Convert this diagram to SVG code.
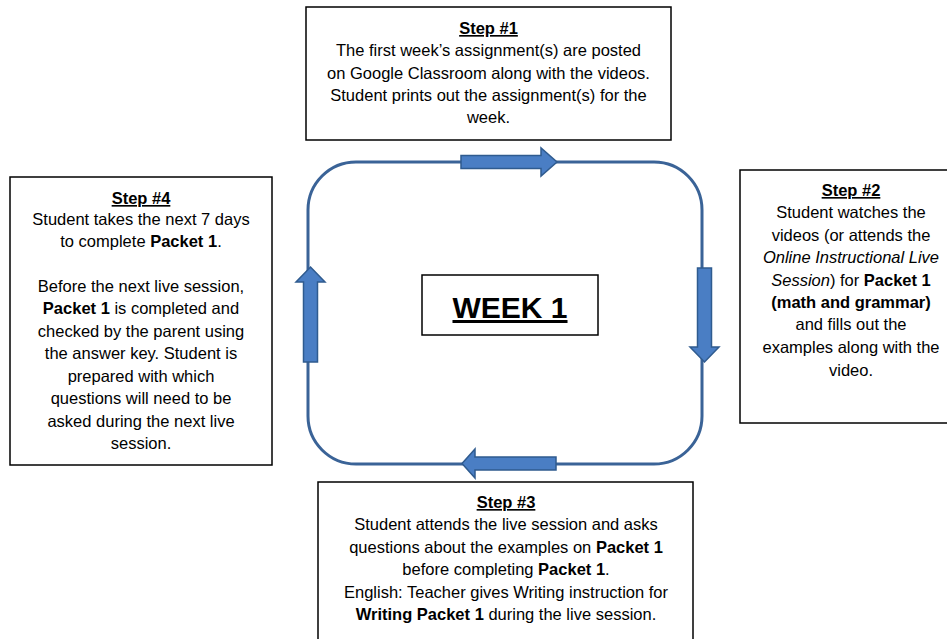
<svg xmlns="http://www.w3.org/2000/svg" width="947" height="639" viewBox="0 0 947 639">
<style>
.box{fill:#fff;stroke:#000;stroke-width:1.5}
.t{font-family:"Liberation Sans",Arial,sans-serif;font-size:16.5px;fill:#000;text-anchor:middle}
.h{font-weight:bold;text-decoration:underline}
.b{font-weight:bold}
.i{font-style:italic}
.arr{fill:#4A7EC4;stroke:#2F5B8F;stroke-width:1.5;stroke-linejoin:miter}
.loop{fill:none;stroke:#3A6397;stroke-width:3}
</style>
<rect width="947" height="639" fill="#fff"/>
<g id="connectors">
<rect class="loop" x="308" y="162" width="394" height="302" rx="48" ry="48"/>
<path class="arr" d="M461,155.5 H541 V148 L557,162 L541,176 V168.5 H461 Z"/>
<path class="arr" d="M697.5,268 V347 H690 L704.5,362 L719,347 H711.5 V268 Z"/>
<path class="arr" d="M556,457 H475 V449 L462,463.5 L475,478 V470 H556 Z"/>
<path class="arr" d="M303.5,362 V282 H296 L310.5,267 L325,282 H317.5 V362 Z"/>
</g>
<g id="step1">
<rect class="box" x="306" y="7" width="365" height="133"/>
<text class="t" x="488.5" y="34"><tspan class="h">Step #1</tspan></text>
<text class="t" x="488.5" y="56">The first week’s assignment(s) are posted</text>
<text class="t" x="488.5" y="79">on Google Classroom along with the videos.</text>
<text class="t" x="488.5" y="101">Student prints out the assignment(s) for the</text>
<text class="t" x="488.5" y="123">week.</text>
</g>
<g id="step2">
<rect class="box" x="740" y="170" width="210" height="253"/>
<text class="t" x="851" y="196"><tspan class="h">Step #2</tspan></text>
<text class="t" x="851" y="218">Student watches the</text>
<text class="t" x="851" y="241">videos (or attends the</text>
<text class="t" x="851" y="263"><tspan class="i">Online Instructional Live</tspan></text>
<text class="t" x="851" y="286"><tspan class="i">Session</tspan>) for <tspan class="b">Packet 1</tspan></text>
<text class="t" x="851" y="308"><tspan class="b">(math and grammar)</tspan></text>
<text class="t" x="851" y="330">and fills out the</text>
<text class="t" x="851" y="353">examples along with the</text>
<text class="t" x="851" y="376">video.</text>
</g>
<g id="step3">
<rect class="box" x="318" y="482" width="375" height="170"/>
<text class="t" x="506" y="508"><tspan class="h">Step #3</tspan></text>
<text class="t" x="506" y="530">Student attends the live session and asks</text>
<text class="t" x="506" y="553">questions about the examples on <tspan class="b">Packet 1</tspan></text>
<text class="t" x="506" y="575">before completing <tspan class="b">Packet 1</tspan>.</text>
<text class="t" x="506" y="598">English: Teacher gives Writing instruction for</text>
<text class="t" x="506" y="620"><tspan class="b">Writing Packet 1</tspan> during the live session.</text>
</g>
<g id="step4">
<rect class="box" x="10" y="177" width="262" height="288"/>
<text class="t" x="141" y="204"><tspan class="h">Step #4</tspan></text>
<text class="t" x="141" y="225">Student takes the next 7 days</text>
<text class="t" x="141" y="247">to complete <tspan class="b">Packet 1</tspan>.</text>
<text class="t" x="141" y="292">Before the next live session,</text>
<text class="t" x="141" y="314"><tspan class="b">Packet 1</tspan> is completed and</text>
<text class="t" x="141" y="337">checked by the parent using</text>
<text class="t" x="141" y="359">the answer key. Student is</text>
<text class="t" x="141" y="382">prepared with which</text>
<text class="t" x="141" y="404">questions will need to be</text>
<text class="t" x="141" y="427">asked during the next live</text>
<text class="t" x="141" y="449">session.</text>
</g>
<g id="week1">
<rect class="box" x="422" y="275" width="176" height="60"/>
<text class="t h" x="510" y="318" style="font-size:30px">WEEK 1</text>
</g>
</svg>
